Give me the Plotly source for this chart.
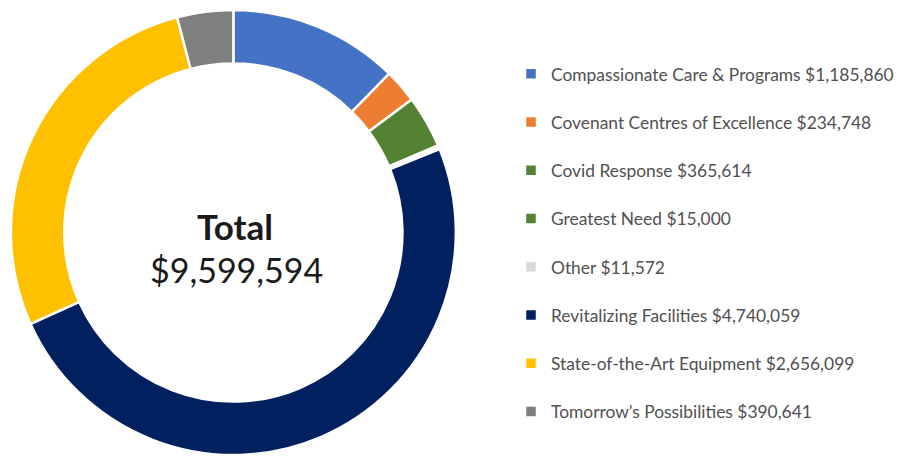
import plotly.graph_objects as go

categories = [
    "Compassionate Care & Programs",
    "Covenant Centres of Excellence",
    "Covid Response",
    "Greatest Need",
    "Other",
    "Revitalizing Facilities",
    "State-of-the-Art Equipment",
    "Tomorrow\u2019s Possibilities",
]
amounts = [1185860, 234748, 365614, 15000, 11572, 4740059, 2656099, 390641]
colors = ["#4472C4", "#ED7D31", "#548235", "#548235", "#D9D9D9", "#002060", "#FFC000", "#7F7F7F"]
total_label = "$9,599,594"

legend_labels = [f"{c} ${v:,}<br> " for c, v in zip(categories, amounts)]

W, H = 899, 458

fig = go.Figure(go.Pie(
    labels=legend_labels,
    values=amounts,
    marker=dict(colors=colors, line=dict(color="white", width=2.5)),
    hole=0.76,
    sort=False,
    direction="clockwise",
    rotation=0,
    textinfo="none",
    hoverinfo="label+value",
    domain=dict(x=[11/W, 461/W], y=[0, 1-7/H]),
))

fig.add_annotation(x=238/W, y=1-226/H, xref="paper", yref="paper",
                   xanchor="center", yanchor="middle",
                   text="<b>Total</b>", showarrow=False,
                   font=dict(family="Lato", size=35, color="#1a1a1a"))
fig.add_annotation(x=239/W, y=1-269/H, xref="paper", yref="paper",
                   xanchor="center", yanchor="middle",
                   text=total_label, showarrow=False,
                   font=dict(family="Lato", size=34, color="#1a1a1a"))

fig.update_layout(
    width=W, height=H,
    margin=dict(l=0, r=0, t=0, b=0),
    paper_bgcolor="white",
    plot_bgcolor="white",
    showlegend=True,
    legend=dict(
        x=517/W, xanchor="left",
        y=1-56/H, yanchor="top",
        valign="top",
        font=dict(family="Lato", size=17.4, color="#505050"),
        bgcolor="rgba(0,0,0,0)",
    ),
)

fig.write_html("out.html",
               config={"displayModeBar": False},
               post_script="document.body.style.margin='0';document.body.style.overflow='hidden';")
